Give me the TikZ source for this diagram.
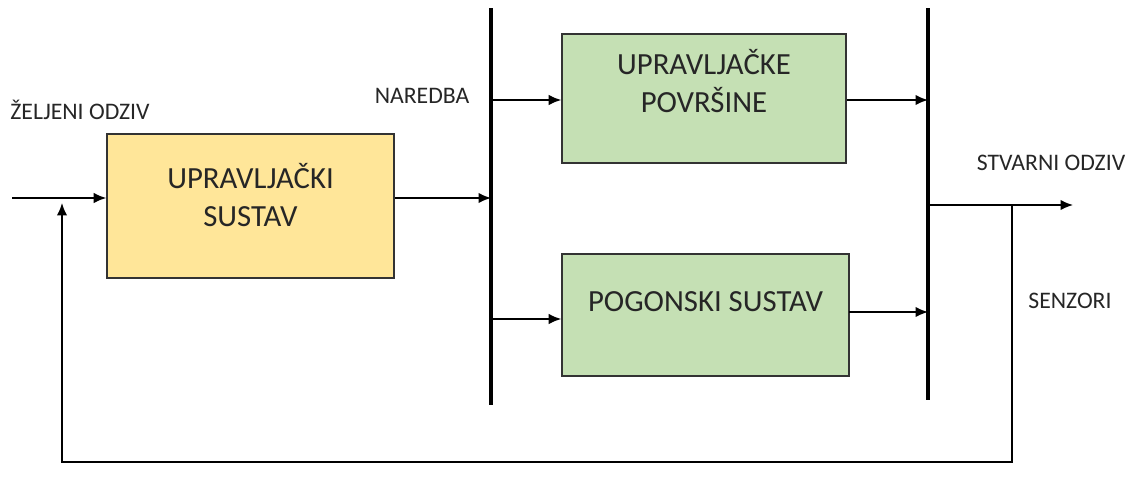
\documentclass[tikz,border=0pt]{standalone}
\usepackage{fontspec}
\setmainfont{Carlito}
\usepackage{xcolor}
\usepackage{tikz}
\usetikzlibrary{arrows,arrows.meta,positioning,calc}

\definecolor{zuta}{HTML}{FFE699}
\definecolor{zelena}{HTML}{C5E0B4}

\begin{document}
\begin{tikzpicture}[
			x = 0.02cm, y = -0.02cm,
			>={Latex[length=2.5mm,width=2.1mm]},
			every node/.style = {font=\fontsize{13.5}{16}\selectfont, text=black!85},
			blok/.style = {draw=black!80, line width=0.9pt, rectangle},
			tekst/.style = {font=\fontsize{17.5}{22}\selectfont, align=center, text=black!85},
			veza/.style = {->, line width=0.9pt},
			sabirnica/.style = {line width=1.8pt}
		]
			\useasboundingbox (0,0) rectangle (1133,490);

			% blokovi
			\node[blok, fill=zuta, minimum width=5.74cm, minimum height=2.88cm,
				label={[tekst, yshift=0.22cm]center:UPRAVLJAČKI\\SUSTAV}] (upravljacki) at (250.5,206) {};
			\node[blok, fill=zelena, minimum width=5.68cm, minimum height=2.58cm,
				label={[tekst, yshift=0.35cm]center:UPRAVLJAČKE\\POVRŠINE}] (povrsine) at (704,98.5) {};
			\node[blok, fill=zelena, minimum width=5.74cm, minimum height=2.44cm,
				label={[tekst, yshift=0.26cm]center:POGONSKI SUSTAV}] (pogon) at (705.5,315) {};

			% sabirnice
			\coordinate (lijevaGore) at (491,8);
			\coordinate (lijevaDolje) at (491,405);
			\coordinate (desnaGore) at (928,8);
			\coordinate (desnaDolje) at (928,400);
			\draw[sabirnica] (lijevaGore) -- (lijevaDolje);
			\draw[sabirnica] (desnaGore) -- (desnaDolje);

			% natpisi
			\node (zeljeni) at (80,110) {ŽELJENI ODZIV};
			\node (naredba) at (422,96) {NAREDBA};
			\node (stvarni) at (1051,163) {STVARNI ODZIV};
			\node (senzori) at (1070,301) {SENZORI};

			% veze
			\coordinate (ulaz) at (12,198);
			\coordinate (granaGore) at (491,100);
			\coordinate (granaDolje) at (491,319);
			\coordinate (pogonIzlaz) at (849,312);
			\coordinate (izlaz) at (928,205);
			\coordinate (kraj) at (1073,205);
			\coordinate (grana) at (1012,205);
			\coordinate (povratni) at (62,203);

			\draw[veza] (ulaz) -- (ulaz -| upravljacki.west);
			\draw[veza] (ulaz -| upravljacki.east) -- (ulaz -| lijevaGore);
			\draw[veza] (granaGore) -- (granaGore -| povrsine.west);
			\draw[veza] (granaGore -| povrsine.east) -- (granaGore -| desnaGore);
			\draw[veza] (granaDolje) -- (granaDolje -| pogon.west);
			\draw[veza] (pogonIzlaz) -- (pogonIzlaz -| desnaGore);
			\draw[veza] (izlaz) -- (kraj);
			\draw[veza] (grana) -- (1012,462) -| (povratni);

		\end{tikzpicture}
\end{document}
